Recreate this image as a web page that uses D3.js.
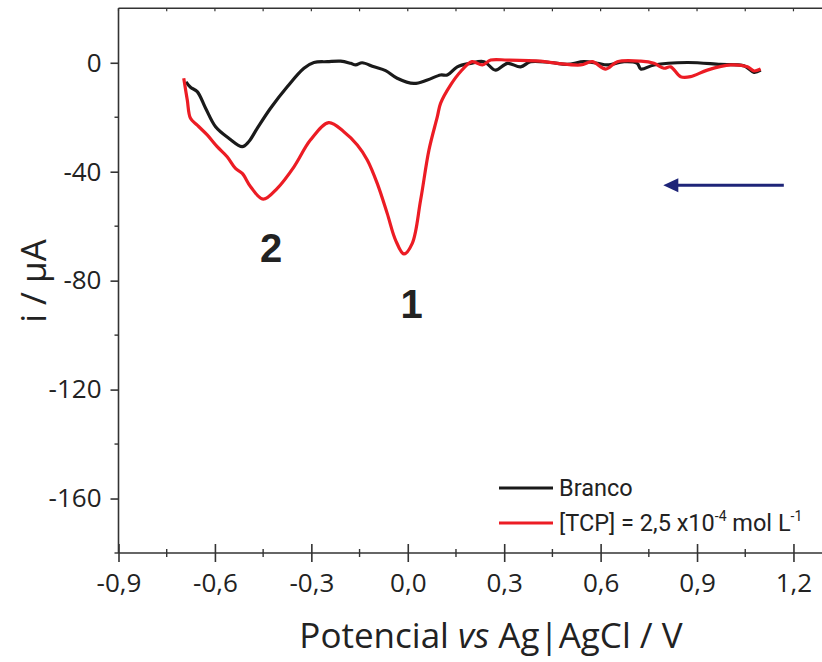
<!DOCTYPE html>
<html><head><meta charset="utf-8">
<script src="https://cdn.jsdelivr.net/npm/d3@7/dist/d3.min.js"></script>
<style>body{margin:0;background:#fff}svg{display:block}</style>
</head><body>
<svg id="c" width="822" height="662"></svg>
<script>
// Potential (V vs Ag|AgCl) and current (µA)
const brancoV = [-0.69,-0.676,-0.655,-0.629,-0.598,-0.557,-0.515,-0.495,-0.468,-0.427,-0.375,-0.323,-0.292,-0.25,-0.209,-0.178,-0.162,-0.142,-0.105,-0.069,-0.033,0.019,0.061,0.102,0.123,0.154,0.195,0.237,0.273,0.31,0.351,0.382,0.444,0.496,0.548,0.59,0.621,0.673,0.714,0.725,0.766,0.87,0.973,1.046,1.077,1.098];
const brancoI = [-7,-9,-10.6,-16.7,-23.5,-27.7,-30.8,-29,-24,-16.7,-8.8,-2,0.1,0.4,0.6,-0.2,-0.8,0,-1.5,-2.9,-5.7,-7.6,-6.3,-4.5,-4.5,-1.5,-0.2,0.4,-2.7,-0.2,-1.5,0.4,0.1,-0.6,0.4,-0.2,-0.8,0.4,-0.2,-2.3,-0.8,0.1,-0.6,-1.1,-3.5,-2.7];
const tcpV = [-0.697,-0.686,-0.676,-0.655,-0.624,-0.593,-0.562,-0.536,-0.515,-0.489,-0.45,-0.406,-0.354,-0.303,-0.246,-0.199,-0.157,-0.126,-0.095,-0.064,-0.038,-0.012,0.014,0.04,0.066,0.092,0.102,0.133,0.164,0.2,0.232,0.258,0.31,0.413,0.465,0.538,0.574,0.616,0.652,0.725,0.766,0.797,0.818,0.849,0.88,0.932,1.005,1.057,1.077,1.098];
const tcpI = [-5.7,-13.7,-20.4,-22.9,-26.5,-30.8,-34.5,-38.8,-40.6,-45.5,-50.1,-46.1,-38.2,-28.4,-22,-25.3,-30.2,-35.7,-44.3,-55.3,-65.1,-70.2,-66.3,-50.4,-32,-19.8,-14.9,-8.2,-3.3,0.4,-0.8,1.0,1.0,0.6,-0.2,-0.8,0.4,-2.3,0.4,0.6,-0.2,-2,-1.5,-5.1,-5.1,-2.7,-0.8,-1.5,-3,-2.3];
const xTicks = [-0.9,-0.6,-0.3,0.0,0.3,0.6,0.9,1.2];
const xMinor = [-0.75,-0.45,-0.15,0.15,0.45,0.75,1.05];
const yTicks = [0,-40,-80,-120,-160];
const yMinor = [-20,-60,-100,-140,-180];
const seriesNames = ["Branco","[TCP] = 2,5 x10"];
const colors = ["#1a1a1a","#ec1c24"];

const svg = d3.select("#c");
const x = d3.scaleLinear().domain([-0.9,1.3]).range([118.5, 825.6]);
const y = d3.scaleLinear().domain([-180,20]).range([553, 8.3]);
const fmt = d => d3.format(".1f")(d).replace(".",",").replace("−","-");
const axisCol = "#333";

// frame
svg.append("line").attr("x1",x(-0.9)).attr("x2",822).attr("y1",y(20)).attr("y2",y(20)).attr("stroke",axisCol).attr("stroke-width",1.6);

// curves
const line = d3.line().x(d=>x(d[0])).y(d=>y(d[1])).curve(d3.curveCatmullRom);
const bData = brancoV.map((v,i)=>[v,brancoI[i]]);
const tData = tcpV.map((v,i)=>[v,tcpI[i]]);
svg.append("path").datum(bData).attr("d",line).attr("fill","none").attr("stroke",colors[0]).attr("stroke-width",3.2).attr("stroke-linejoin","round");
svg.append("path").datum(tData).attr("d",line).attr("fill","none").attr("stroke",colors[1]).attr("stroke-width",3.2).attr("stroke-linejoin","round");

// bottom axis
const gx = svg.append("g").attr("transform",`translate(0,${y(-180)})`);
gx.call(d3.axisBottom(x).tickValues(xTicks).tickSize(9).tickPadding(12).tickFormat(fmt));
gx.select(".domain").remove();
gx.append("line").attr("x1",x(-0.9)).attr("x2",822).attr("stroke",axisCol).attr("stroke-width",1.6);
gx.selectAll(".tick line").attr("y1",-9).attr("stroke",axisCol).attr("stroke-width",1.6);
gx.selectAll(".tick text").attr("font-family","Open Sans").attr("font-size",26).attr("fill","#222");
xMinor.forEach(v=>{gx.append("line").attr("x1",x(v)).attr("x2",x(v)).attr("y1",-4).attr("y2",4).attr("stroke",axisCol).attr("stroke-width",1.4);});
// top ticks
xTicks.concat(xMinor).forEach(v=>{svg.append("line").attr("x1",x(v)).attr("x2",x(v)).attr("y1",y(20)).attr("y2",y(20)+3).attr("stroke",axisCol).attr("stroke-width",1.2);});

// left axis
const gy = svg.append("g").attr("transform",`translate(${x(-0.9)},0)`);
gy.call(d3.axisLeft(y).tickValues(yTicks).tickSize(8).tickPadding(9).tickFormat(d=>d3.format("d")(d).replace("−","-")));
gy.select(".domain").attr("stroke",axisCol).attr("stroke-width",1.6).attr("d",`M0,${y(20)}V${y(-180)}`);
gy.selectAll(".tick line").attr("stroke",axisCol).attr("stroke-width",1.6);
gy.selectAll(".tick text").attr("font-family","Open Sans").attr("font-size",26).attr("fill","#222");
yMinor.forEach(v=>{gy.append("line").attr("x1",-4).attr("x2",0).attr("y1",y(v)).attr("y2",y(v)).attr("stroke",axisCol).attr("stroke-width",1.4);});

// axis titles
const xt = svg.append("text").attr("x",491).attr("y",648).attr("text-anchor","middle").attr("font-family","Open Sans").attr("font-size",35).attr("fill","#222");
xt.append("tspan").text("Potencial ");
xt.append("tspan").attr("font-style","italic").text("vs");
xt.append("tspan").text(" Ag|AgCl / V");
svg.append("text").attr("transform","translate(46,281) rotate(-90)").attr("text-anchor","middle").attr("font-family","Open Sans").attr("font-size",35).attr("fill","#222").text("i / µA");

// peak labels
svg.append("text").attr("x",x(0.012)).attr("y",318).attr("text-anchor","middle").attr("font-family","Liberation Sans").attr("font-weight","bold").attr("font-size",40).attr("fill","#222").text("1");
svg.append("text").attr("x",x(-0.425)).attr("y",262).attr("text-anchor","middle").attr("font-family","Liberation Sans").attr("font-weight","bold").attr("font-size",40).attr("fill","#222").text("2");

// arrow (scan direction)
const arrowY = y(-45);
svg.append("line").attr("x1",x(1.17)).attr("x2",x(0.83)).attr("y1",arrowY).attr("y2",arrowY).attr("stroke","#1e2478").attr("stroke-width",3);
svg.append("path").attr("d",`M${x(0.795)},${arrowY} l15,-7 l0,14 z`).attr("fill","#1e2478");

// legend
const lg = svg.append("g").attr("font-family","Roboto").attr("font-size",23.5).attr("fill","#222");
[488,523].forEach((ly,i)=>{
  lg.append("line").attr("x1",499).attr("x2",553).attr("y1",ly).attr("y2",ly).attr("stroke",colors[i]).attr("stroke-width",3);
});
lg.append("text").attr("x",559).attr("y",496).text(seriesNames[0]);
const t2 = lg.append("text").attr("x",559).attr("y",531);
t2.append("tspan").text(seriesNames[1]);
t2.append("tspan").attr("font-size",14).attr("dy",-10).text("-4");
t2.append("tspan").attr("dy",10).text(" mol L");
t2.append("tspan").attr("font-size",14).attr("dy",-10).text("-1");
</script>
</body></html>
